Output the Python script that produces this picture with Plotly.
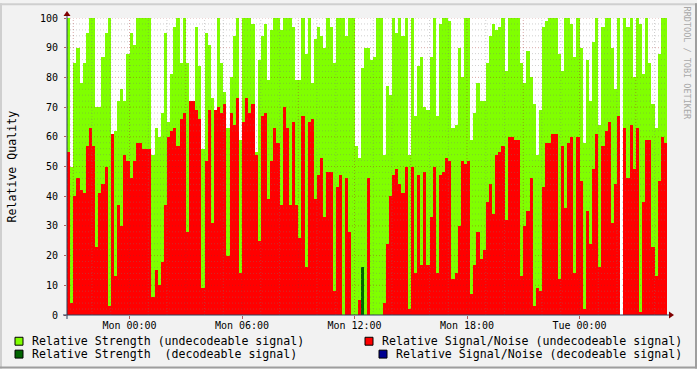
import plotly.graph_objects as go
import pandas as pd

# ---------------- data (10-minute samples, Sun 20:40 -> Tue 04:40) ----------------
START = "2023-12-31 20:40"   # a Sunday
END = "2024-01-02 04:40"     # Tuesday
STEP_MIN = 10

strength_undecodeable = [
    100, 50, 85, 90, 78, 85, 95, 100, 100, 70, 70, 87, 95, 100, 57, 62, 72, 76, 72, 88, 95, 91, 100, 100,
    100, 100, 100, 54, 63, 60, 68, 95, 65, 81, 97, 100, 85, 100, 85, 70, 55, 97, 84, 56, 95, 91, 73, 67,
    100, 85, 75, 63, 80, 94, 100, 59, 100, 100, 100, 98, 55, 86, 94, 98, 79, 96, 100, 100, 96, 100, 100, 100,
    97, 79, 79, 100, 88, 100, 78, 93, 97, 94, 90, 100, 97, 85, 100, 100, 100, 94, 100, 100, 57, 53, 83, 90,
    90, 86, 87, 100, 100, 54, 77, 74, 100, 95, 100, 94, 100, 54, 100, 67, 84, 87, 70, 69, 87, 100, 67, 98,
    100, 100, 99, 63, 64, 90, 80, 100, 100, 59, 68, 78, 72, 72, 85, 94, 98, 96, 97, 100, 82, 100, 100, 100,
    100, 85, 78, 89, 80, 71, 54, 69, 97, 99, 100, 100, 100, 88, 82, 100, 100, 98, 87, 100, 90, 58, 86, 72,
    92, 100, 64, 97, 100, 100, 90, 76, 100, None, 100, 97, 100, 80, 100, 98, 81, 100, 85, 71, 63, 88, 100, 100,
]

snr_undecodeable = [
    55, 4, 40, 46, 42, 41, 57, 63, 57, 23, 41, 44, 50, 3, 61, 13, 37, 30, 54, 52, 46, 52, 58, 58,
    56, 56, 56, 6, 15, 10, 18, 37, 60, 62, 63, 57, 66, 68, 28, 72, 72, 69, 66, 9, 52, 69, 31, 69,
    70, 68, 71, 20, 68, 64, 73, 14, 65, 73, 68, 71, 54, 25, 67, 68, 39, 52, 63, 58, 37, 70, 63, 37,
    65, 37, 26, 67, 16, 65, 66, 39, 47, 53, 33, 48, 48, 8, 43, 47, 0, 46, 28, 0, 0, 5, 0, 0,
    46, 0, 0, 0, 0, 4, 24, 40, 47, 49, 44, 41, 50, 2, 50, 14, 47, 17, 48, 17, 33, 50, 14, 47,
    48, 53, 52, 12, 14, 30, 52, 51, 52, 7, 17, 28, 19, 22, 38, 44, 34, 54, 55, 57, 32, 60, 60, 59,
    59, 13, 30, 35, 46, 3, 9, 8, 43, 58, 58, 61, 61, 12, 57, 36, 58, 60, 14, 60, 45, 2, 35, 24,
    49, 61, 16, 57, 62, 65, 31, 44, 67, None, 63, 46, 64, 49, 63, 1, 38, 59, 59, 23, 13, 45, 60, 58,
]

# sparse decodeable series: sample index -> value
strength_decodeable_points = {94: 16}
snr_decodeable_points = {}

tick_times = ["2024-01-01 00:00", "2024-01-01 06:00", "2024-01-01 12:00",
              "2024-01-01 18:00", "2024-01-02 00:00"]
tick_labels = ["Mon 00:00", "Mon 06:00", "Mon 12:00", "Mon 18:00", "Tue 00:00"]
y_ticks = [0, 10, 20, 30, 40, 50, 60, 70, 80, 90, 100]

series_names = ["Relative Strength (undecodeable signal)",
                "Relative Signal/Noise (undecodeable signal)",
                "Relative Strength\u00a0\u00a0(decodeable signal)",
                "Relative Signal/Noise (decodeable signal)"]
series_colors = ["#80FF00", "#FF0000", "#006400", "#000090"]

# ---------------- build ----------------
N = len(strength_undecodeable)
times = pd.date_range(START, periods=N, freq=f"{STEP_MIN}min") + pd.Timedelta(minutes=STEP_MIN / 2)
strength_decodeable = [strength_decodeable_points.get(i) for i in range(N)]
snr_decodeable = [snr_decodeable_points.get(i) for i in range(N)]
bar_w = STEP_MIN * 60 * 1000

W, H = 697, 369
ML, MR, MT, MB = 67, 30, 15, 54
PW, PH = W - ML - MR, H - MT - MB


def px(x):
    return (x - ML) / PW


def py(y):
    return (H - MB - y) / PH


FONT = "DejaVu Sans Mono"
fig = go.Figure()
for vals, name, col in zip([strength_undecodeable, snr_undecodeable, strength_decodeable, snr_decodeable],
                           series_names, series_colors):
    fig.add_trace(go.Bar(x=times, y=vals, width=bar_w, name=name,
                         marker=dict(color=col, line=dict(width=0)), showlegend=False,
                         hoverinfo="skip"))

shapes = []
# grid (drawn above the areas like rrdtool)
MINOR_C = "rgba(120,120,120,0.35)"
MAJOR_C = "rgba(160,40,40,0.40)"
for v in range(2, 101, 2):
    shapes.append(dict(type="line", xref="paper", yref="y", x0=0, x1=1, y0=v, y1=v,
                       line=dict(color=MAJOR_C if v % 10 == 0 else MINOR_C, width=1, dash="1px,2px"),
                       layer="above"))
for t in pd.date_range("2023-12-31 21:00", "2024-01-02 04:00", freq="1h"):
    shapes.append(dict(type="line", xref="x", yref="paper", x0=t, x1=t, y0=0, y1=1,
                       line=dict(color=MAJOR_C if t.hour % 3 == 0 else MINOR_C, width=1, dash="1px,2px"),
                       layer="above"))
# axis lines and arrows
AX_C = "#2C3E5A"
shapes.append(dict(type="line", xref="paper", yref="paper", x0=px(63), x1=px(670), y0=0, y1=0,
                   line=dict(color=AX_C, width=1), layer="above"))
shapes.append(dict(type="line", xref="paper", yref="paper", x0=0, x1=0, y0=py(319), y1=py(11),
                   line=dict(color=AX_C, width=1), layer="above"))
ARROW_C = "#7F0000"
shapes.append(dict(type="path", xref="paper", yref="paper", layer="above",
                   path=f"M{px(669)},{py(311.5)} L{px(674)},{py(315)} L{px(669)},{py(318.5)} Z",
                   fillcolor=ARROW_C, line=dict(color=ARROW_C, width=0)))
shapes.append(dict(type="path", xref="paper", yref="paper", layer="above",
                   path=f"M{px(63.5)},{py(13)} L{px(67)},{py(8)} L{px(70.5)},{py(13)} Z",
                   fillcolor=ARROW_C, line=dict(color=ARROW_C, width=0)))
# frame shading
shapes += [
    dict(type="rect", xref="paper", yref="paper", x0=px(0), x1=px(W), y0=py(0), y1=py(2),
         fillcolor="#CFCFCF", line=dict(width=0)),
    dict(type="rect", xref="paper", yref="paper", x0=px(0), x1=px(2), y0=py(0), y1=py(H),
         fillcolor="#CFCFCF", line=dict(width=0)),
    dict(type="rect", xref="paper", yref="paper", x0=px(0), x1=px(W), y0=py(H - 2), y1=py(H),
         fillcolor="#9E9E9E", line=dict(width=0)),
    dict(type="rect", xref="paper", yref="paper", x0=px(W - 2), x1=px(W), y0=py(0), y1=py(H),
         fillcolor="#9E9E9E", line=dict(width=0)),
]

# legend (rrdtool style)
annotations = []
legend_pos = [(15, 30, 341.5), (365, 380, 341.5), (15, 30, 354.5), (379, 394, 354.5)]
for (sx, tx, cy), name, col in zip(legend_pos, series_names, series_colors):
    shapes.append(dict(type="rect", xref="paper", yref="paper", x0=px(sx), x1=px(sx + 8),
                       y0=py(cy - 4), y1=py(cy + 4), fillcolor=col,
                       line=dict(color="#000000", width=1), layer="above"))
    annotations.append(dict(xref="paper", yref="paper", x=px(tx), y=py(cy), text=name,
                            showarrow=False, xanchor="left", yanchor="middle",
                            font=dict(family=FONT, size=11.6, color="#000000")))

annotations.append(dict(xref="paper", yref="paper", x=px(11), y=0.5, text="Relative Quality",
                        textangle=-90, showarrow=False, xanchor="center", yanchor="middle",
                        font=dict(family=FONT, size=11.6, color="#000000")))
annotations.append(dict(xref="paper", yref="paper", x=px(687), y=py(60), text="RRDTOOL / TOBI OETIKER",
                        textangle=90, showarrow=False, xanchor="center", yanchor="middle",
                        font=dict(family=FONT, size=8.5, color="#A8A8A8")))

fig.update_layout(
    width=W, height=H,
    margin=dict(l=ML, r=MR, t=MT, b=MB, pad=0),
    paper_bgcolor="#F2F2F2", plot_bgcolor="#FFFFFF",
    barmode="overlay", bargap=0,
    shapes=shapes, annotations=annotations,
    hovermode=False,
    xaxis=dict(type="date", range=[START, END], tickmode="array", tickvals=tick_times,
               ticktext=tick_labels, showgrid=False, zeroline=False, showline=False,
               ticks="outside", ticklen=3, tickcolor="rgba(150,30,30,0.7)", ticklabelstandoff=-2,
               tickfont=dict(family=FONT, size=10, color="#000000"), fixedrange=True),
    yaxis=dict(range=[0, 100], tickmode="array", tickvals=y_ticks, showgrid=False, zeroline=False,
               showline=False, ticks="outside", ticklen=2, tickcolor="rgba(150,30,30,0.7)",
               ticklabelstandoff=4, tickfont=dict(family=FONT, size=10, color="#000000"),
               fixedrange=True),
)

fig.write_html("out.html", config={"displayModeBar": False},
               post_script="document.body.style.margin='0';document.body.style.overflow='hidden';")
